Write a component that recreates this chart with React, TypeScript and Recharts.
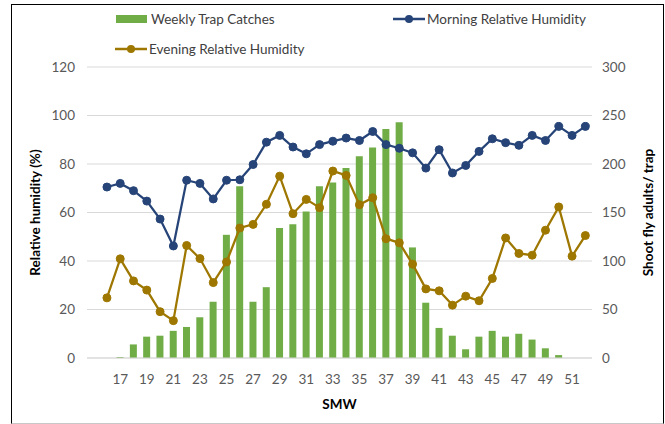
import React from 'react'
import { ComposedChart, Bar, Line, XAxis, YAxis, CartesianGrid, Legend } from 'recharts'

// standard meteorological weeks
const weeks = [15, 16, 17, 18, 19, 20, 21, 22, 23, 24, 25, 26, 27, 28, 29, 30, 31, 32, 33, 34, 35, 36, 37, 38, 39, 40, 41, 42, 43, 44, 45, 46, 47, 48, 49, 50, 51, 52]

const trapCatches = [null, 0, 1, 14, 22, 23, 28, 32, 42, 58, 127, 177, 58, 73, 134, 138, 151, 177, 181, 196, 208, 217, 236, 243, 114, 57, 31, 23, 9, 22, 28, 22, 25, 19, 10, 3, 0, 0]

const morningRH = [null, 70.5, 72, 69, 64.7, 57.3, 46.2, 73.3, 72, 65.6, 73.3, 73.5, 79.8, 89, 91.8, 87, 84.2, 88, 89.4, 90.7, 89.7, 93.4, 88, 86.5, 84.6, 78.3, 85.9, 76.3, 79.4, 85.2, 90.4, 88.8, 87.7, 91.8, 89.7, 95.5, 91.8, 95.5]

const eveningRH = [null, 24.8, 40.9, 31.8, 28, 19.1, 15.4, 46.4, 41, 31.1, 39.6, 53.6, 55.1, 63.4, 75, 59.5, 65.4, 62, 77.1, 75.3, 63.2, 66.1, 49.2, 47.5, 38.7, 28.5, 27.7, 21.8, 25.5, 23.6, 32.8, 49.5, 43.1, 42.4, 52.7, 62.3, 42, 50.5]

const leftTicks = [0, 20, 40, 60, 80, 100, 120]
const rightTicks = [0, 50, 100, 150, 200, 250, 300]

const GREEN = '#70AD47'
const BLUE = '#264478'
const GOLD = '#9E7700'
const FONT = 'Lato, "Open Sans", sans-serif'

const data = weeks.map((w, i) => ({
  week: w,
  catches: trapCatches[i],
  morning: morningRH[i],
  evening: eveningRH[i],
}))

function LineIcon({ color }: { color: string }) {
  return (
    <svg width={32} height={10} style={{ display: 'block' }}>
      <line x1={0} y1={5} x2={32} y2={5} stroke={color} strokeWidth={2.5} />
      <circle cx={16} cy={5} r={4} fill={color} />
    </svg>
  )
}

function ChartLegend() {
  const text = { fontFamily: FONT, fontSize: 13.5, color: '#404040', whiteSpace: 'nowrap' as const }
  return (
    <div style={{ position: 'relative', width: 665, height: 62 }}>
      <div style={{ position: 'absolute', left: 116, top: 6, display: 'flex', alignItems: 'center', gap: 4 }}>
        <div style={{ width: 31, height: 8, background: GREEN }} />
        <span style={text}>Weekly Trap Catches</span>
      </div>
      <div style={{ position: 'absolute', left: 393, top: 6, display: 'flex', alignItems: 'center', gap: 2 }}>
        <LineIcon color={BLUE} />
        <span style={text}>Morning Relative Humidity</span>
      </div>
      <div style={{ position: 'absolute', left: 115, top: 36, display: 'flex', alignItems: 'center', gap: 2 }}>
        <LineIcon color={GOLD} />
        <span style={text}>Evening Relative Humidity</span>
      </div>
    </div>
  )
}

function AxisTitle({ viewBox, value, cx }: any) {
  const y = viewBox.y + viewBox.height / 2
  const x = viewBox.x + cx
  return (
    <text
      x={x}
      y={y}
      transform={`rotate(-90 ${x} ${y})`}
      textAnchor="middle"
      dominantBaseline="central"
      fontFamily={FONT}
      fontWeight={700}
      fontSize={13.5}
      fill="#000"
    >
      {value}
    </text>
  )
}

const tickStyle = { fontFamily: FONT, fontSize: 13.5, fill: '#595959' }

export default function App() {
  return (
    <div style={{ position: 'absolute', left: 0, top: 0, width: 665, height: 424, background: '#fff' }}>
      <div
        style={{
          position: 'absolute',
          left: 11,
          top: 4,
          width: 651,
          height: 418,
          borderLeft: '1.5px solid #000',
          borderTop: '1.5px solid #000',
          borderRight: '1.5px solid #000',
          borderBottom: '1.5px solid #c8c8c8',
        }}
      />
      <ComposedChart
        width={665}
        height={424}
        data={data}
        margin={{ top: 5, right: 28, bottom: 11, left: 20 }}
        barCategoryGap="0%"
      >
        <CartesianGrid vertical={false} stroke="#D9D9D9" yAxisId="rh" />
        <Legend
          verticalAlign="top"
          content={() => <ChartLegend />}
          wrapperStyle={{ left: 0, top: 5, width: 665, height: 62 }}
        />
        <XAxis
          dataKey="week"
          interval={0}
          tickLine={false}
          axisLine={{ stroke: '#D9D9D9' }}
          tick={tickStyle}
          tickMargin={10}
          height={55}
          tickFormatter={(v: number) => (v >= 17 && v % 2 === 1 ? String(v) : '')}
          label={{ value: 'SMW', position: 'insideBottom', offset: 4, fontFamily: FONT, fontWeight: 700, fontSize: 13.5, fill: '#000' }}
        />
        <YAxis
          yAxisId="rh"
          orientation="left"
          domain={[0, 120]}
          ticks={leftTicks}
          width={67}
          tickLine={false}
          axisLine={false}
          tick={tickStyle}
          tickMargin={6}
          label={<AxisTitle value="Relative humidity (%)" cx={15} />}
        />
        <YAxis
          yAxisId="trap"
          orientation="right"
          domain={[0, 300]}
          ticks={rightTicks}
          width={45}
          tickLine={false}
          axisLine={false}
          tick={{ ...tickStyle, textAnchor: 'start' }}
          tickMargin={4}
          label={<AxisTitle value="Shoot fly adults/ trap" cx={56} />}
        />
        <Bar yAxisId="trap" dataKey="catches" name="Weekly Trap Catches" fill={GREEN} barSize={7} isAnimationActive={false} />
        <Line
          yAxisId="rh"
          dataKey="morning"
          name="Morning Relative Humidity"
          stroke={BLUE}
          strokeWidth={2.25}
          dot={{ r: 4, fill: BLUE, stroke: BLUE, strokeWidth: 1 }}
          activeDot={false}
          isAnimationActive={false}
        />
        <Line
          yAxisId="rh"
          dataKey="evening"
          name="Evening Relative Humidity"
          stroke={GOLD}
          strokeWidth={2.25}
          dot={{ r: 4, fill: GOLD, stroke: GOLD, strokeWidth: 1 }}
          activeDot={false}
          isAnimationActive={false}
        />
      </ComposedChart>
    </div>
  )
}
